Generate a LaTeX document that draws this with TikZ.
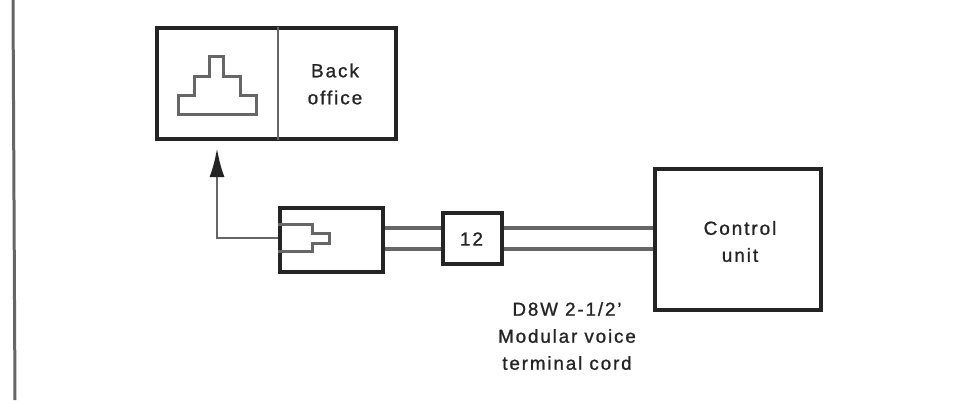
\documentclass[tikz,border=0pt]{standalone}
\usepackage{fontspec}
\setmainfont[LetterSpace=10,FakeBold=1]{Liberation Sans}
\usetikzlibrary{arrows.meta}
\definecolor{ink}{gray}{0.14}
\definecolor{wire}{gray}{0.4}
\tikzset{
  x=1pt,y=-1pt,
  heavybox/.style={draw=ink,line width=4.4pt,fill=white,minimum width=#1,inner sep=0pt},
  thin line/.style={draw=wire,line width=2.8pt},
  symbol line/.style={draw=wire,line width=3pt,line join=miter},
  cord/.style={draw=wire,line width=3.8pt},
  lbl/.style={font=\fontsize{19}{27}\selectfont,text=ink,align=center,inner sep=0pt},
}
\begin{document}
\begin{tikzpicture}
\useasboundingbox (0,0) rectangle (963,400);
\fill[white] (0,0) rectangle (963,400);
% page edge rule
\coordinate (edgetop) at (13,0);
\coordinate (edgebot) at (15,400);
\draw[draw=wire,line width=3pt] (edgetop) -- (edgebot);
% boxes
\node[heavybox=103pt,minimum height=64pt] (jack) at (331.5,240) {};
\node[heavybox=59pt,minimum height=51pt] (twelve) at (472.5,238.5) {};
\node[heavybox=166pt,minimum height=141pt] (control) at (738,239.5) {};
\node[lbl] at (471.5,239) {12};
\node[lbl] (controllbl) at (740,241.5) {Control\\unit};
% back office box
\node[heavybox=239pt,minimum height=111pt] (office) at (276.5,83.5) {};
\coordinate (divtop) at (278,27);
\coordinate (divbot) at (278,140);
\draw[thin line] (divtop) -- (divbot);
\node[lbl] (backlbl) at (335,84) {Back\\office};
% wall jack symbol
\draw[symbol line] (178,114) -- (178,95) -- (194,95) -- (194,76) -- (209,76) -- (209,56)
  -- (223,56) -- (223,76) -- (240,76) -- (240,95) -- (256,95) -- (256,114) -- cycle;
% cords
\foreach \yy/\nm in {228/a,249/b}{
  \coordinate (j\nm) at (jack.east |- 0,\yy);
  \coordinate (t\nm) at (twelve.west |- 0,\yy);
  \coordinate (u\nm) at (twelve.east |- 0,\yy);
  \coordinate (c\nm) at (control.west |- 0,\yy);
  \draw[cord] (j\nm) -- (t\nm);
  \draw[cord] (u\nm) -- (c\nm);
}
% plug
\coordinate (pa) at (jack.west |- 0,224);
\coordinate (pb) at (jack.west |- 0,251);
\draw[symbol line] (pa) -- (312,224) -- (312,233) -- (329,233) -- (329,243) -- (312,243) -- (312,251) -- (pb);
% arrow
\coordinate (tip) at (217,148);
\coordinate (corner) at (217,238);
\draw[thin line,-{Latex[length=29pt,width=15pt,color=ink]}] (jack.west |- corner) -- (corner) -- (tip);
% caption
\node[lbl,font=\fontsize{18.8}{27}\selectfont] (caption) at (567,336) {D8W 2-1/2'\\Modular voice\\terminal cord};
\end{tikzpicture}
\end{document}
